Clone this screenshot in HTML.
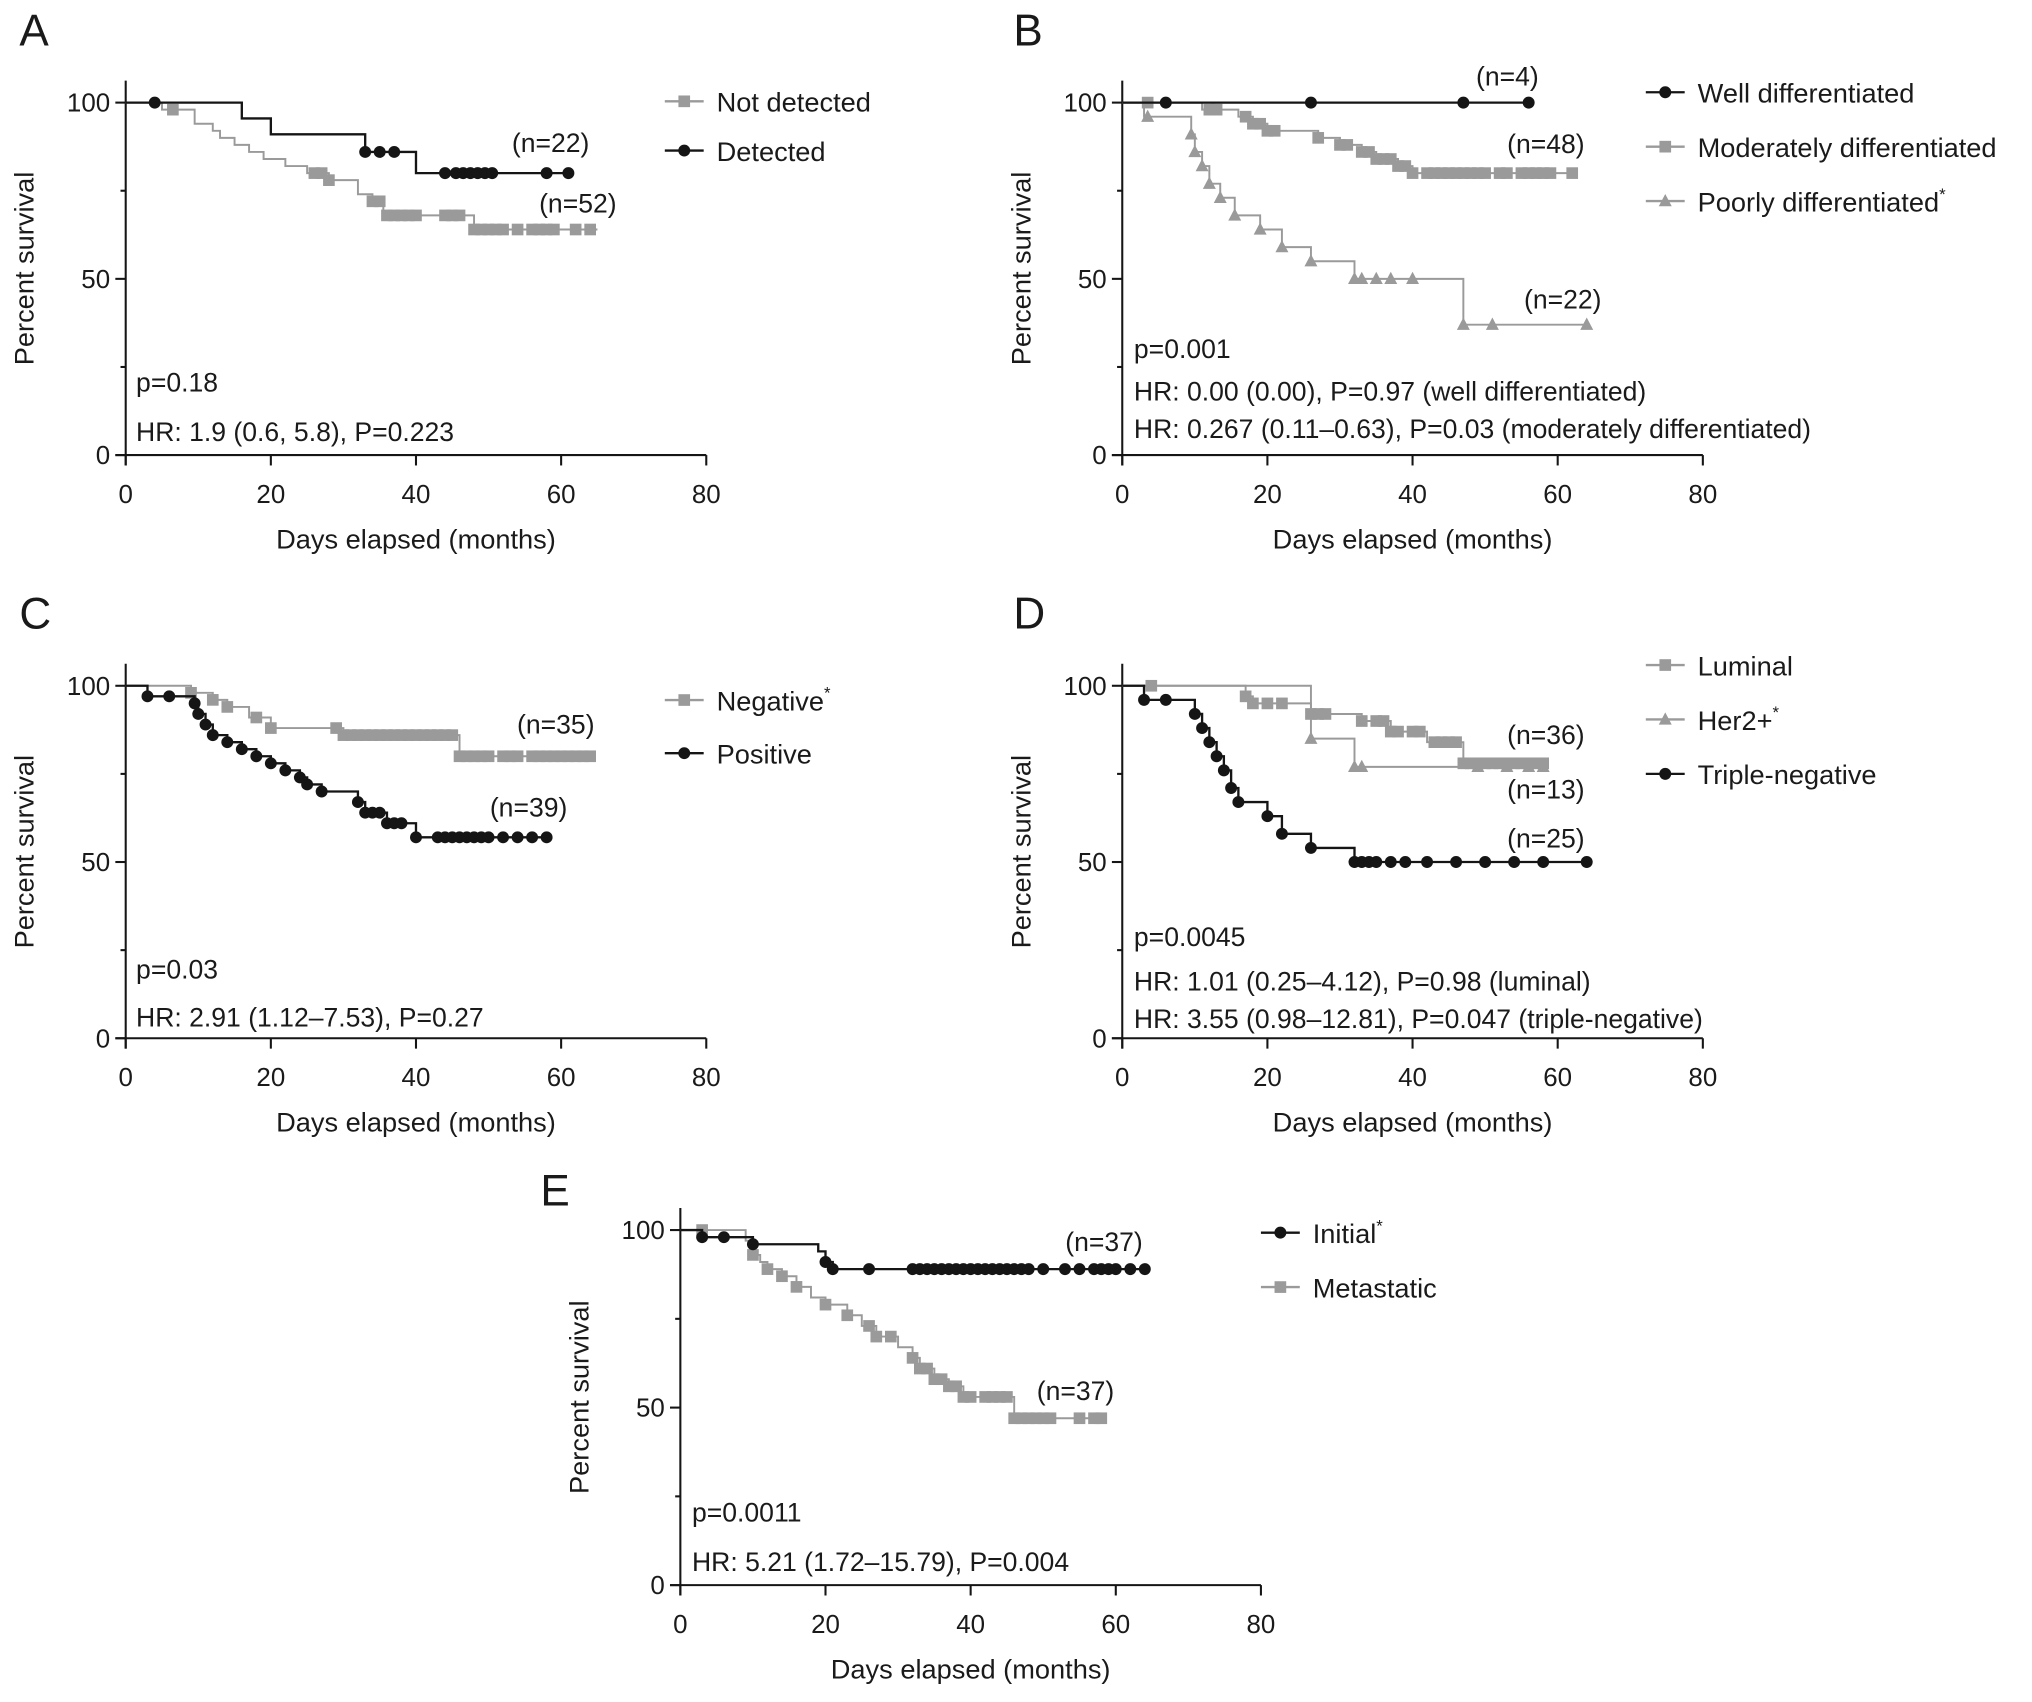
<!DOCTYPE html>
<html><head><meta charset="utf-8"><style>
html,body{margin:0;padding:0;background:#fff}
svg{display:block}
text{font-family:"Liberation Sans",Arial,sans-serif;fill:#1a1a1a}
</style></head><body>
<svg id="fig" width="2032" height="1702" viewBox="0 0 1568 1313" xmlns="http://www.w3.org/2000/svg"></svg>
<script>
// ---- Data ----
const xTicks = [0, 20, 40, 60, 80];
const yTicks = [0, 50, 100];
const yMinor = [25, 75];

// Panel A
const aDetT = [0, 16, 20, 33, 40];
const aDetS = [100, 95.5, 91, 86, 80];
const aDetEnd = 61;
const aDetCens = [4, 33, 35, 37, 44, 45.5, 46.5, 47.5, 48.5, 49.5, 50.5, 58, 61];
const aNdT = [0, 5, 9.5, 12, 13, 15, 17, 19, 22, 25, 28, 32, 34, 35.5, 48];
const aNdS = [100, 98, 94, 92, 90, 88, 86, 84, 82, 80, 78, 74, 72, 68, 64];
const aNdEnd = 65;
const aNdCens = [6.5, 26, 27, 28, 34, 35, 36, 37, 38, 39, 40, 44, 45, 46, 48, 49, 50, 51, 52, 54, 56, 57, 58, 59, 62, 64];

// Panel B
const bWellT = [0]; const bWellS = [100]; const bWellEnd = 56;
const bWellCens = [6, 26, 47, 56];
const bModT = [0, 11, 16, 18, 20, 27, 30, 33, 35, 38, 40];
const bModS = [100, 98, 96, 94, 92, 90, 88, 86, 84, 82, 80];
const bModEnd = 62;
const bModCens = [3.5, 12, 13, 17, 18, 19, 20, 21, 27, 30, 31, 33, 34, 35, 36, 37, 38, 39, 40, 42, 43, 44, 45, 46, 47, 48, 49, 50, 52, 53, 55, 56, 57, 58, 59, 62];
const bPoorT = [0, 3, 9.5, 10, 11, 12, 13.5, 15.5, 19, 22, 26, 32, 47];
const bPoorS = [100, 96, 91, 86, 82, 77, 73, 68, 64, 59, 55, 50, 37];
const bPoorEnd = 64;
const bPoorCens = [3.5, 9.5, 10, 11, 12, 13.5, 15.5, 19, 22, 26, 32, 33, 35, 37, 40, 47, 51, 64];

// Panel C
const cNegT = [0, 9, 12, 14, 17, 20, 30, 46];
const cNegS = [100, 98, 96, 94, 91, 88, 86, 80];
const cNegEnd = 64;
const cNegCens = [9, 12, 14, 18, 20, 29, 30, 31, 32, 33, 34, 35, 36, 37, 38, 39, 40, 41, 42, 43, 44, 45, 46, 47, 48, 49, 50, 52, 53, 54, 56, 57, 58, 59, 60, 61, 62, 63, 64];
const cPosT = [0, 3, 9.5, 10, 11, 12, 14, 16, 18, 20, 22, 24, 25, 27, 32, 33, 36, 40];
const cPosS = [100, 97, 95, 92, 89, 86, 84, 82, 80, 78, 76, 74, 72, 70, 67, 64, 61, 57];
const cPosEnd = 58;
const cPosCens = [3, 6, 9.5, 10, 11, 12, 14, 16, 18, 20, 22, 24, 25, 27, 32, 33, 34, 35, 36, 37, 38, 40, 43, 44, 45, 46, 47, 48, 49, 50, 52, 54, 56, 58];

// Panel D
const dLumT = [0, 17, 18, 26, 33, 37, 42, 47];
const dLumS = [100, 97, 95, 92, 90, 87, 84, 78];
const dLumEnd = 58;
const dLumCens = [4, 17, 18, 20, 22, 26, 27, 28, 33, 35, 36, 37, 38, 40, 41, 43, 44, 45, 46, 47, 48, 49, 50, 51, 52, 53, 54, 55, 56, 57, 58];
const dHerT = [0, 26, 32];
const dHerS = [100, 85, 77];
const dHerEnd = 58;
const dHerCens = [26, 32, 33, 49, 53, 56, 58];
const dTnT = [0, 3, 10, 11, 12, 13, 14, 15, 16, 20, 22, 26, 32];
const dTnS = [100, 96, 92, 88, 84, 80, 76, 71, 67, 63, 58, 54, 50];
const dTnEnd = 64;
const dTnCens = [3, 6, 10, 11, 12, 13, 14, 15, 16, 20, 22, 26, 32, 33, 34, 35, 37, 39, 42, 46, 50, 54, 58, 64];

// Panel E
const eIniT = [0, 3, 10, 19, 20, 21];
const eIniS = [100, 98, 96, 94, 91, 89];
const eIniEnd = 64;
const eIniCens = [3, 6, 10, 20, 21, 26, 32, 33, 34, 35, 36, 37, 38, 39, 40, 41, 42, 43, 44, 45, 46, 47, 48, 50, 53, 55, 57, 58, 59, 60, 62, 64];
const eMetT = [0, 9, 10, 11, 12, 14, 16, 18, 20, 23, 25, 27, 30, 32, 33, 35, 37, 39, 46];
const eMetS = [100, 97, 93, 91, 89, 87, 84, 81, 79, 76, 73, 70, 67, 64, 61, 58, 56, 53, 47];
const eMetEnd = 58;
const eMetCens = [3, 10, 12, 14, 16, 20, 23, 26, 27, 29, 32, 33, 34, 35, 36, 37, 38, 39, 40, 42, 43, 44, 45, 46, 47, 48, 49, 50, 51, 55, 57, 58];

// ---- Rendering ----
const NS = "http://www.w3.org/2000/svg";
const svg = document.getElementById('fig');
const BLACK = "#151515", GREY = "#9a9a9a";
function mk(tag, attrs, parent) {
  const e = document.createElementNS(NS, tag);
  for (const k in attrs) e.setAttribute(k, attrs[k]);
  (parent || svg).appendChild(e);
  return e;
}
function txt(x, y, s, size, parent, anchor) {
  const t = mk('text', {x: x, y: y, 'font-size': size, 'text-anchor': anchor || 'start'}, parent);
  t.textContent = s;
  return t;
}
function marker(g, type, x, y, color) {
  let m;
  if (type === 'circle') m = mk('circle', {cx: x, cy: y, r: 4.6, fill: color}, g);
  else if (type === 'square') m = mk('rect', {x: x - 4.5, y: y - 4.5, width: 9, height: 9, fill: color}, g);
  else m = mk('polygon', {points: `${x},${y-5.5} ${x+5},${y+4} ${x-5},${y+4}`, fill: color}, g);
  return m;
}
function panel(o) {
  const g = mk('g', {});
  
  
  const X = v => o.x0 + v * (448 / 80);
  const Y = v => o.y0 - v * ((o.y0 - o.y100) / 100);
  const lt = txt(o.lx, o.ly, o.letter, 34, g);
  
  
  const ax = mk('g', {stroke: BLACK, 'stroke-width': 1.6, fill: 'none'}, g);
  
  
  mk('line', {x1: o.x0, y1: o.y100 - 17, x2: o.x0, y2: o.y0 + 8}, ax);
  mk('line', {x1: o.x0 - 8, y1: o.y0, x2: X(80), y2: o.y0}, ax);
  xTicks.forEach(v => {
    mk('line', {x1: X(v), y1: o.y0, x2: X(v), y2: o.y0 + 8}, ax);
    const t = txt(X(v), o.y0 + 37, String(v), 20, g, 'middle');
    
    
  });
  yTicks.forEach(v => {
    mk('line', {x1: o.x0 - 8, y1: Y(v), x2: o.x0, y2: Y(v)}, ax);
    const t = txt(o.x0 - 12, Y(v) + 7, String(v), 20, g, 'end');
    
    
  });
  yMinor.forEach(v => mk('line', {x1: o.x0 - 4, y1: Y(v), x2: o.x0, y2: Y(v)}, ax));
  const xt = txt(X(40), o.y0 + 72, 'Days elapsed (months)', 21, g, 'middle');
  
  
  const yc = (o.y0 + o.y100) / 2 - 8;
  const yt = txt(0, 0, 'Percent survival', 21, g, 'middle');
  yt.setAttribute('transform', `translate(${o.x0 - 71},${yc}) rotate(-90)`);
  
  
  o.series.forEach(s => {
    const sg = mk('g', {}, g);
    
    
    let d = `M${X(s.t[0])},${Y(s.s[0])}`;
    for (let i = 1; i < s.t.length; i++) d += ` H${X(s.t[i])} V${Y(s.s[i])}`;
    d += ` H${X(s.end)}`;
    const p = mk('path', {d: d, fill: 'none', stroke: s.color, 'stroke-width': s.color === BLACK ? 1.8 : 1.5}, sg);
    
    
    s.cens.forEach(c => {
      let sv = s.s[0];
      for (let i = 0; i < s.t.length; i++) if (s.t[i] <= c) sv = s.s[i];
      const m = marker(sg, s.mk, X(c), Y(sv), s.color);
      
      
    });
  });
  o.legend.forEach((l, i) => {
    const lg = mk('g', {}, g);
    
    
    const ly = o.legY + i * o.legDy;
    mk('line', {x1: o.legX, y1: ly, x2: o.legX + 30, y2: ly, stroke: l.color, 'stroke-width': 1.8}, lg);
    marker(lg, l.mk, o.legX + 15, ly, l.color);
    const t = txt(o.legX + 40, ly + 8, l.label, 21, lg);
    if (l.star) { const ts = mk('tspan', {dy: -9, 'font-size': 13}, t); ts.textContent = '*'; }
  });
  o.notes.forEach(n => {
    const t = txt(n[0], n[1], n[2], 20.5, g);
    
    
  });
}

panel({letter: 'A', lx: 15, ly: 35, x0: 97, y0: 351, y100: 79, legX: 513, legY: 78, legDy: 38,
  series: [
    {id: 'not-detected', t: aNdT, s: aNdS, end: aNdEnd, cens: aNdCens, color: GREY, mk: 'square'},
    {id: 'detected', t: aDetT, s: aDetS, end: aDetEnd, cens: aDetCens, color: BLACK, mk: 'circle'}],
  legend: [{label: 'Not detected', color: GREY, mk: 'square'}, {label: 'Detected', color: BLACK, mk: 'circle'}],
  notes: [[395, 117, '(n=22)'], [416, 164, '(n=52)'], [105, 302, 'p=0.18'], [105, 340, 'HR: 1.9 (0.6, 5.8), P=0.223']]});

panel({letter: 'B', lx: 782, ly: 35, x0: 866, y0: 351, y100: 79, legX: 1270, legY: 71, legDy: 42,
  series: [
    {id: 'moderately', t: bModT, s: bModS, end: bModEnd, cens: bModCens, color: GREY, mk: 'square'},
    {id: 'poorly', t: bPoorT, s: bPoorS, end: bPoorEnd, cens: bPoorCens, color: GREY, mk: 'triangle'},
    {id: 'well', t: bWellT, s: bWellS, end: bWellEnd, cens: bWellCens, color: BLACK, mk: 'circle'}],
  legend: [{label: 'Well differentiated', color: BLACK, mk: 'circle'}, {label: 'Moderately differentiated', color: GREY, mk: 'square'},
    {label: 'Poorly differentiated', color: GREY, mk: 'triangle', star: true}],
  notes: [[1139, 66, '(n=4)'], [1163, 118, '(n=48)'], [1176, 238, '(n=22)'], [875, 276, 'p=0.001'],
    [875, 309, 'HR: 0.00 (0.00), P=0.97 (well differentiated)'], [875, 338, 'HR: 0.267 (0.11\u20130.63), P=0.03 (moderately differentiated)']]});

panel({letter: 'C', lx: 15, ly: 485, x0: 97, y0: 801, y100: 529, legX: 513, legY: 540, legDy: 41,
  series: [
    {id: 'negative', t: cNegT, s: cNegS, end: cNegEnd, cens: cNegCens, color: GREY, mk: 'square'},
    {id: 'positive', t: cPosT, s: cPosS, end: cPosEnd, cens: cPosCens, color: BLACK, mk: 'circle'}],
  legend: [{label: 'Negative', color: GREY, mk: 'square', star: true}, {label: 'Positive', color: BLACK, mk: 'circle'}],
  notes: [[399, 566, '(n=35)'], [378, 630, '(n=39)'], [105, 755, 'p=0.03'], [105, 792, 'HR: 2.91 (1.12\u20137.53), P=0.27']]});

panel({letter: 'D', lx: 782, ly: 485, x0: 866, y0: 801, y100: 529, legX: 1270, legY: 513, legDy: 42,
  series: [
    {id: 'luminal', t: dLumT, s: dLumS, end: dLumEnd, cens: dLumCens, color: GREY, mk: 'square'},
    {id: 'her2', t: dHerT, s: dHerS, end: dHerEnd, cens: dHerCens, color: GREY, mk: 'triangle'},
    {id: 'triple-negative', t: dTnT, s: dTnS, end: dTnEnd, cens: dTnCens, color: BLACK, mk: 'circle'}],
  legend: [{label: 'Luminal', color: GREY, mk: 'square'}, {label: 'Her2+', color: GREY, mk: 'triangle', star: true},
    {label: 'Triple-negative', color: BLACK, mk: 'circle'}],
  notes: [[1163, 574, '(n=36)'], [1163, 616, '(n=13)'], [1163, 654, '(n=25)'], [875, 730, 'p=0.0045'],
    [875, 764, 'HR: 1.01 (0.25\u20134.12), P=0.98 (luminal)'], [875, 793, 'HR: 3.55 (0.98\u201312.81), P=0.047 (triple-negative)']]});

panel({letter: 'E', lx: 417, ly: 930, x0: 525, y0: 1223, y100: 949, legX: 973, legY: 951, legDy: 42,
  series: [
    {id: 'metastatic', t: eMetT, s: eMetS, end: eMetEnd, cens: eMetCens, color: GREY, mk: 'square'},
    {id: 'initial', t: eIniT, s: eIniS, end: eIniEnd, cens: eIniCens, color: BLACK, mk: 'circle'}],
  legend: [{label: 'Initial', color: BLACK, mk: 'circle', star: true}, {label: 'Metastatic', color: GREY, mk: 'square'}],
  notes: [[822, 965, '(n=37)'], [800, 1080, '(n=37)'], [534, 1174, 'p=0.0011'], [534, 1212, 'HR: 5.21 (1.72\u201315.79), P=0.004']]});
</script>
</body></html>
